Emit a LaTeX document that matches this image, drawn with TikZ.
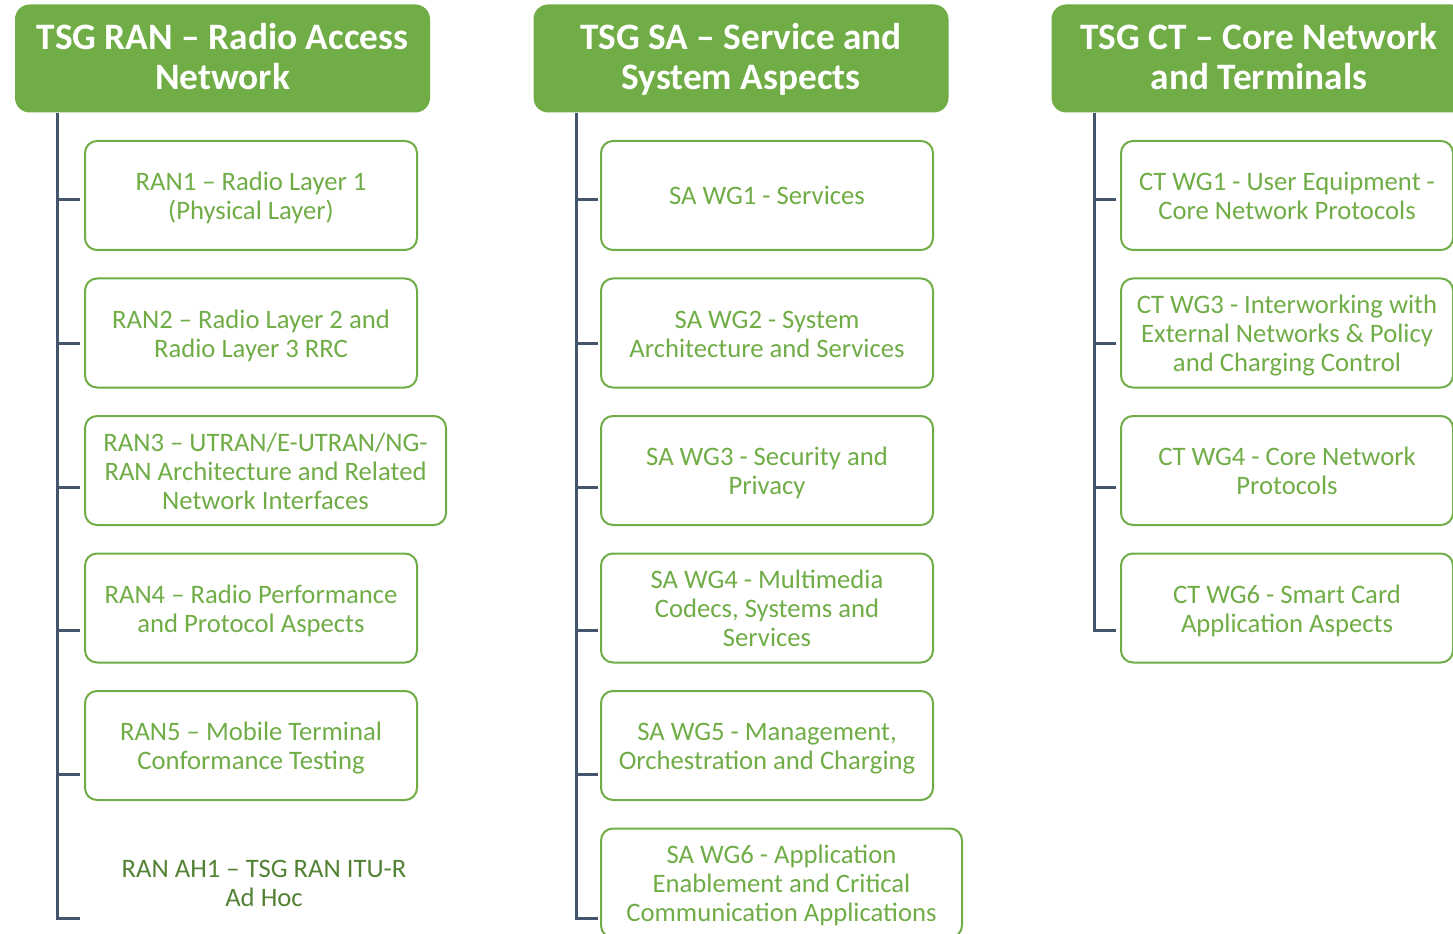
\documentclass[tikz,border=0pt]{standalone}
\usepackage{fontspec}
\setmainfont{Carlito}
\definecolor{hdrgreen}{HTML}{70AD47}
\definecolor{txtgreen}{HTML}{70AD47}
\definecolor{darkgreen}{HTML}{548235}
\definecolor{linegray}{HTML}{44546A}
\newcommand\hT{\rule[-5.5pt]{0pt}{27.5pt}}
\newcommand\hB{\rule[-5.5pt]{0pt}{5.5pt}}
\newcommand\wT{\rule[-4pt]{0pt}{22.4pt}}
\newcommand\wO{\rule[-4pt]{0pt}{20.9pt}}
\newcommand\wB{\rule[-4pt]{0pt}{4pt}}
\begin{document}
\begin{tikzpicture}[x=0.75pt,y=-0.75pt,
  hdr/.style={rectangle, rounded corners=11pt, fill=hdrgreen, text=white,
    font=\fontsize{28}{30}\selectfont\bfseries, align=center,
    minimum width=311.25pt, minimum height=81pt, inner sep=0pt},
  wg/.style={rectangle, rounded corners=9pt, draw=hdrgreen, line width=1.5pt,
    fill=white, text=txtgreen, font=\fontsize{20}{21.75}\selectfont, align=center,
    minimum width=249pt, minimum height=81.75pt, inner sep=0pt},
  widewg/.style={wg, minimum width=270.75pt},
  plainwg/.style={text=darkgreen, font=\fontsize{20}{21.75}\selectfont, align=center, inner sep=0pt},
  tree/.style={draw=linegray, line width=2.25pt}]
\useasboundingbox (0,0) rectangle (1453,934);
\clip (0,0) rectangle (1453,934);

% headers
\node[hdr] (ran) at (222.5,58.5) {\hT TSG RAN – Radio Access\\Network\hB};
\node[hdr] (sa) at (741,58.5) {\hT TSG SA – Service and\\System Aspects\hB};
\node[hdr] (ct) at (1259,58.5) {\hT TSG CT – Core Network\\and Terminals\hB};

% RAN column
\node[wg] (ran1) at (251,195.5) {\wT RAN1 – Radio Layer 1\\(Physical Layer)\wB};
\node[wg] (ran2) at (251,333) {\wT RAN2 – Radio Layer 2 and\\Radio Layer 3 RRC\wB};
\node[widewg] (ran3) at (265.5,470.5) {\wT RAN3 – UTRAN/E-UTRAN/NG-\\RAN Architecture and Related\\Network Interfaces\wB};
\node[wg] (ran4) at (251,608) {\wT RAN4 – Radio Performance\\and Protocol Aspects\wB};
\node[wg] (ran5) at (251,745.5) {\wT RAN5 – Mobile Terminal\\Conformance Testing\wB};
\node[plainwg] (ranah) at (264,882) {\wT RAN AH1 – TSG RAN ITU-R\\Ad Hoc\wB};

% SA column
\node[wg] (sa1) at (767,195.5) {\wO SA WG1 - Services\wB};
\node[wg] (sa2) at (767,333) {\wT SA WG2 - System\\Architecture and Services\wB};
\node[wg] (sa3) at (767,470.5) {\wT SA WG3 - Security and\\Privacy\wB};
\node[wg] (sa4) at (767,608) {\wT SA WG4 - Multimedia\\Codecs, Systems and\\Services\wB};
\node[wg] (sa5) at (767,745.5) {\wT SA WG5 - Management,\\Orchestration and Charging\wB};
\node[widewg] (sa6) at (781.5,883) {\wT SA WG6 - Application\\Enablement and Critical\\Communication Applications\wB};

% CT column
\node[wg] (ct1) at (1287,195.5) {\wT CT WG1 - User Equipment -\\Core Network Protocols\wB};
\node[wg] (ct3) at (1287,333) {\wT CT WG3 - Interworking with\\External Networks \& Policy\\and Charging Control\wB};
\node[wg] (ct4) at (1287,470.5) {\wT CT WG4 - Core Network\\Protocols\wB};
\node[wg] (ct6) at (1287,608) {\wT CT WG6 - Smart Card\\Application Aspects\wB};

% tree lines
\coordinate (ranX) at (57,0);
\coordinate (saX) at (576,0);
\coordinate (ctX) at (1094,0);
\foreach \i/\y in {1/200,2/343.6,3/487.2,4/630.8,5/774.4,6/918}{
  \coordinate (ranK\i) at (80,\y);
  \coordinate (saK\i) at (598,\y);
}
\foreach \i/\y in {1/200,2/343.6,3/487.2,4/630.8}{
  \coordinate (ctK\i) at (1116,\y);
}
\draw[tree] (ran.south -| ranX) |- (ranK6);
\draw[tree] (sa.south -| saX) |- (saK6);
\draw[tree] (ct.south -| ctX) |- (ctK4);
\foreach \i in {1,...,5}{
  \draw[tree] (ranK\i -| ranX) -- (ranK\i);
  \draw[tree] (saK\i -| saX) -- (saK\i);
}
\foreach \i in {1,...,3}{
  \draw[tree] (ctK\i -| ctX) -- (ctK\i);
}
\end{tikzpicture}
\end{document}
